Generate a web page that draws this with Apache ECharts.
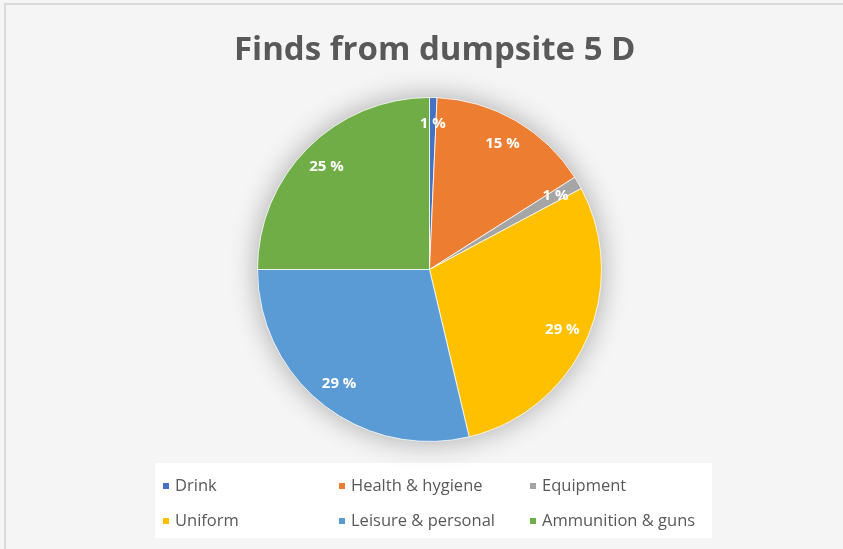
<!DOCTYPE html>
<html>
<head>
<meta charset="utf-8">
<script src="https://cdn.jsdelivr.net/npm/echarts@6/dist/echarts.min.js"></script>
<style>
  html, body { margin: 0; padding: 0; background: #f5f5f5; }
  #chart { width: 843px; height: 549px; }
</style>
</head>
<body>
<div id="chart"></div>
<script>
// Categories of finds and their share of the total (percent)
const categories = ['Drink', 'Health & hygiene', 'Equipment', 'Uniform', 'Leisure & personal', 'Ammunition & guns'];
const shares = [0.7, 15.3, 1.2, 29.1, 28.7, 25.0];
const palette = ['#4472C4', '#ED7D31', '#A5A5A5', '#FFC000', '#5B9BD5', '#70AD47'];
const titleText = 'Finds from dumpsite 5 D';

// legend columns: each column holds one item from each row
const legendColumns = [
  [categories[0], categories[3]],
  [categories[1], categories[4]],
  [categories[2], categories[5]]
];

const FONT = '"Open Sans", "Liberation Sans", sans-serif';
const center = [429.5, 269.5];
const R = 172;

const pieData = categories.map((name, i) => ({
  name,
  value: shares[i],
  itemStyle: { color: palette[i] }
}));

const chart = echarts.init(document.getElementById('chart'), null, { renderer: 'canvas' });

const legendBase = {
  orient: 'vertical',
  itemWidth: 8,
  itemHeight: 8,
  itemGap: 15,
  icon: 'rect',
  selectedMode: false,
  padding: 0,
  textStyle: { fontFamily: FONT, fontSize: 16.5, color: '#595959', lineHeight: 20 }
};

chart.setOption({
  backgroundColor: '#f5f5f5',
  animation: false,
  title: {
    text: titleText,
    left: 229,
    top: 29,
    textStyle: { fontFamily: FONT, fontSize: 33, fontWeight: 'bold', color: '#595959' }
  },
  graphic: [
    { type: 'rect', shape: { x: 5, y: 4, width: 850, height: 560 }, style: { fill: 'none', stroke: '#d9d9d9', lineWidth: 2 }, silent: true, z: -10 },
    { type: 'rect', shape: { x: 155, y: 463, width: 557, height: 75 }, style: { fill: '#ffffff' }, silent: true, z: -5 }
  ],
  legend: legendColumns.map((col, i) => Object.assign({}, legendBase, {
    data: col,
    left: [161, 337, 528][i],
    top: 476
  })),
  series: [
    {
      // main pie
      type: 'pie',
      center,
      radius: [0, R],
      startAngle: 90,
      clockwise: true,
      silent: true,
      label: { show: false },
      labelLine: { show: false },
      itemStyle: { borderColor: '#ffffff', borderWidth: 0.8 },
      data: pieData,
      z: 2
    },
    {
      // soft halo behind the pie
      type: 'pie',
      center,
      radius: [0, R],
      silent: true,
      label: { show: false },
      itemStyle: { color: '#d0d0d0', shadowBlur: 28, shadowColor: 'rgba(0,0,0,0.32)' },
      data: [{ name: '__halo', value: 1 }],
      z: 1
    },
    {
      // percentage labels placed near the rim
      type: 'pie',
      center,
      radius: [R * 0.66, R],
      startAngle: 90,
      clockwise: true,
      silent: true,
      itemStyle: { color: 'rgba(0,0,0,0)' },
      label: {
        show: true,
        position: 'inside',
        formatter: p => Math.round(p.percent) + ' %',
        fontFamily: FONT,
        fontSize: 15,
        fontWeight: 'bold',
        color: '#ffffff'
      },
      labelLine: { show: false },
      data: categories.map((name, i) => ({ name, value: shares[i] })),
      z: 3
    }
  ]
});
</script>
</body>
</html>
